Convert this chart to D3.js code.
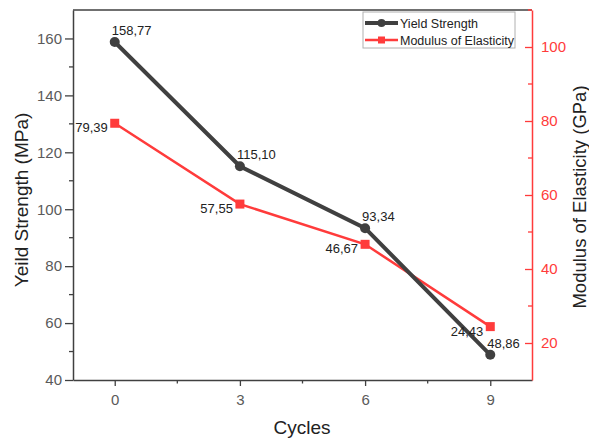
<!DOCTYPE html>
<html>
<head>
<meta charset="utf-8">
<script src="https://cdn.jsdelivr.net/npm/d3@7"></script>
<style>
  body { margin: 0; background: #fff; }
  text { font-family: "Liberation Sans", Arial, sans-serif; }
</style>
</head>
<body>
<svg id="chart" width="589" height="440"></svg>
<script>
const cycles = [0, 3, 6, 9];
const yieldStrength = [158.77, 115.10, 93.34, 48.86];
const modulus = [79.39, 57.55, 46.67, 24.43];
const xTicks = [0, 3, 6, 9];
const xMinor = [1.5, 4.5, 7.5];
const leftTicks = [40, 60, 80, 100, 120, 140, 160];
const leftMinor = [50, 70, 90, 110, 130, 150];
const rightTicks = [20, 40, 60, 80, 100];
const rightMinor = [30, 50, 70, 90];

const fmt = v => v.toFixed(2).replace(".", ",");

const svg = d3.select("#chart");
const plotL = 73, plotR = 532, plotT = 10, plotB = 380;
const dark = "#404040", red = "#ff3b3b", tickGrey = "#5a5a5a";

const x = d3.scaleLinear().domain([-1, 10]).range([plotL, plotR]);
const yL = d3.scaleLinear().domain([40, 170]).range([plotB, plotT]);
const yR = d3.scaleLinear().domain([10, 110]).range([plotB, plotT]);

// top frame line
svg.append("line").attr("x1", plotL).attr("x2", plotR).attr("y1", plotT).attr("y2", plotT)
  .attr("stroke", dark).attr("stroke-width", 1.5);

// bottom axis
const gx = svg.append("g").attr("transform", `translate(0,${plotB})`)
  .call(d3.axisBottom(x).tickValues(xTicks).tickSize(6).tickPadding(8).tickSizeOuter(0));
gx.append("g").selectAll("line").data(xMinor).join("line")
  .attr("x1", d => x(d)).attr("x2", d => x(d)).attr("y1", 0).attr("y2", 3.5);

// left axis
const gl = svg.append("g").attr("transform", `translate(${plotL},0)`)
  .call(d3.axisLeft(yL).tickValues(leftTicks).tickSize(8).tickPadding(3).tickSizeOuter(0));
gl.append("g").selectAll("line").data(leftMinor).join("line")
  .attr("x1", 0).attr("x2", -4).attr("y1", d => yL(d)).attr("y2", d => yL(d));

[gx, gl].forEach(g => {
  g.select(".domain").attr("stroke", dark).attr("stroke-width", 1.5);
  g.selectAll("line").attr("stroke", dark).attr("stroke-width", 1.3);
  g.selectAll(".tick text").attr("fill", tickGrey).attr("font-size", 15)
    .attr("font-family", "Liberation Sans, Arial, sans-serif");
});

// right axis (ticks point inward, labels outside)
const gr = svg.append("g").attr("transform", `translate(${plotR},0)`)
  .call(d3.axisRight(yR).tickValues(rightTicks).tickSize(0).tickPadding(9).tickSizeOuter(0));
gr.selectAll(".tick").append("line").attr("x1", 0).attr("x2", -7);
gr.append("g").selectAll("line").data(rightMinor).join("line")
  .attr("x1", 0).attr("x2", -4).attr("y1", d => yR(d)).attr("y2", d => yR(d));
gr.select(".domain").attr("stroke", red).attr("stroke-width", 1.5);
gr.selectAll("line").attr("stroke", red).attr("stroke-width", 1.3);
gr.selectAll(".tick text").attr("fill", red).attr("font-size", 15)
  .attr("font-family", "Liberation Sans, Arial, sans-serif");
gr.append("line").attr("x1", -4).attr("x2", 0).attr("y1", plotT).attr("y2", plotT)
  .attr("stroke", red).attr("stroke-width", 1.5);

// axis titles
svg.append("text").attr("x", 302).attr("y", 434).attr("text-anchor", "middle")
  .attr("font-size", 19).attr("fill", "#222").text("Cycles");
svg.append("text").attr("transform", "translate(28,200) rotate(-90)").attr("text-anchor", "middle")
  .attr("font-size", 19).attr("fill", "#222").text("Yeild Strength (MPa)");
svg.append("text").attr("transform", "translate(586,197) rotate(-90)").attr("text-anchor", "middle")
  .attr("font-size", 18.5).attr("fill", "#222").text("Modulus of Elasticity (GPa)");

// series
const ys = cycles.map((c, i) => ({ c, v: yieldStrength[i] }));
const ms = cycles.map((c, i) => ({ c, v: modulus[i] }));

svg.append("path").datum(ms).attr("fill", "none").attr("stroke", red).attr("stroke-width", 2.5)
  .attr("d", d3.line().x(d => x(d.c)).y(d => yR(d.v)));
svg.append("path").datum(ys).attr("fill", "none").attr("stroke", dark).attr("stroke-width", 4)
  .attr("d", d3.line().x(d => x(d.c)).y(d => yL(d.v)));

svg.append("g").selectAll("rect").data(ms).join("rect")
  .attr("x", d => x(d.c) - 4.5).attr("y", d => yR(d.v) - 4.5)
  .attr("width", 9).attr("height", 9).attr("fill", red);
svg.append("g").selectAll("circle").data(ys).join("circle")
  .attr("cx", d => x(d.c)).attr("cy", d => yL(d.v)).attr("r", 5).attr("fill", dark);

// value labels
svg.append("g").selectAll("text").data(ys).join("text")
  .attr("x", d => x(d.c) - 3).attr("y", d => yL(d.v) - 7)
  .attr("font-size", 13).attr("fill", "#222").text(d => fmt(d.v));
svg.append("g").selectAll("text").data(ms).join("text")
  .attr("x", d => x(d.c) - 7).attr("y", d => yR(d.v) + 9).attr("text-anchor", "end")
  .attr("font-size", 13).attr("fill", "#222").text(d => fmt(d.v));

// legend
const lg = svg.append("g").attr("transform", "translate(363,12)");
lg.append("rect").attr("width", 152).attr("height", 36).attr("fill", "#fff")
  .attr("stroke", "#b0b0b0").attr("stroke-width", 1);
const legendItems = [
  { name: "Yield Strength", color: dark, w: 4, mark: "circle" },
  { name: "Modulus of Elasticity", color: red, w: 2.5, mark: "rect" }
];
legendItems.forEach((it, i) => {
  const yy = 11 + i * 17;
  lg.append("line").attr("x1", 2).attr("x2", 35).attr("y1", yy).attr("y2", yy)
    .attr("stroke", it.color).attr("stroke-width", it.w);
  if (it.mark === "circle") lg.append("circle").attr("cx", 18.5).attr("cy", yy).attr("r", 4).attr("fill", it.color);
  else lg.append("rect").attr("x", 15).attr("y", yy - 3.5).attr("width", 7).attr("height", 7).attr("fill", it.color);
  lg.append("text").attr("x", 37).attr("y", yy + 4.5).attr("font-size", 12.5).attr("fill", "#222").text(it.name);
});
</script>
</body>
</html>
